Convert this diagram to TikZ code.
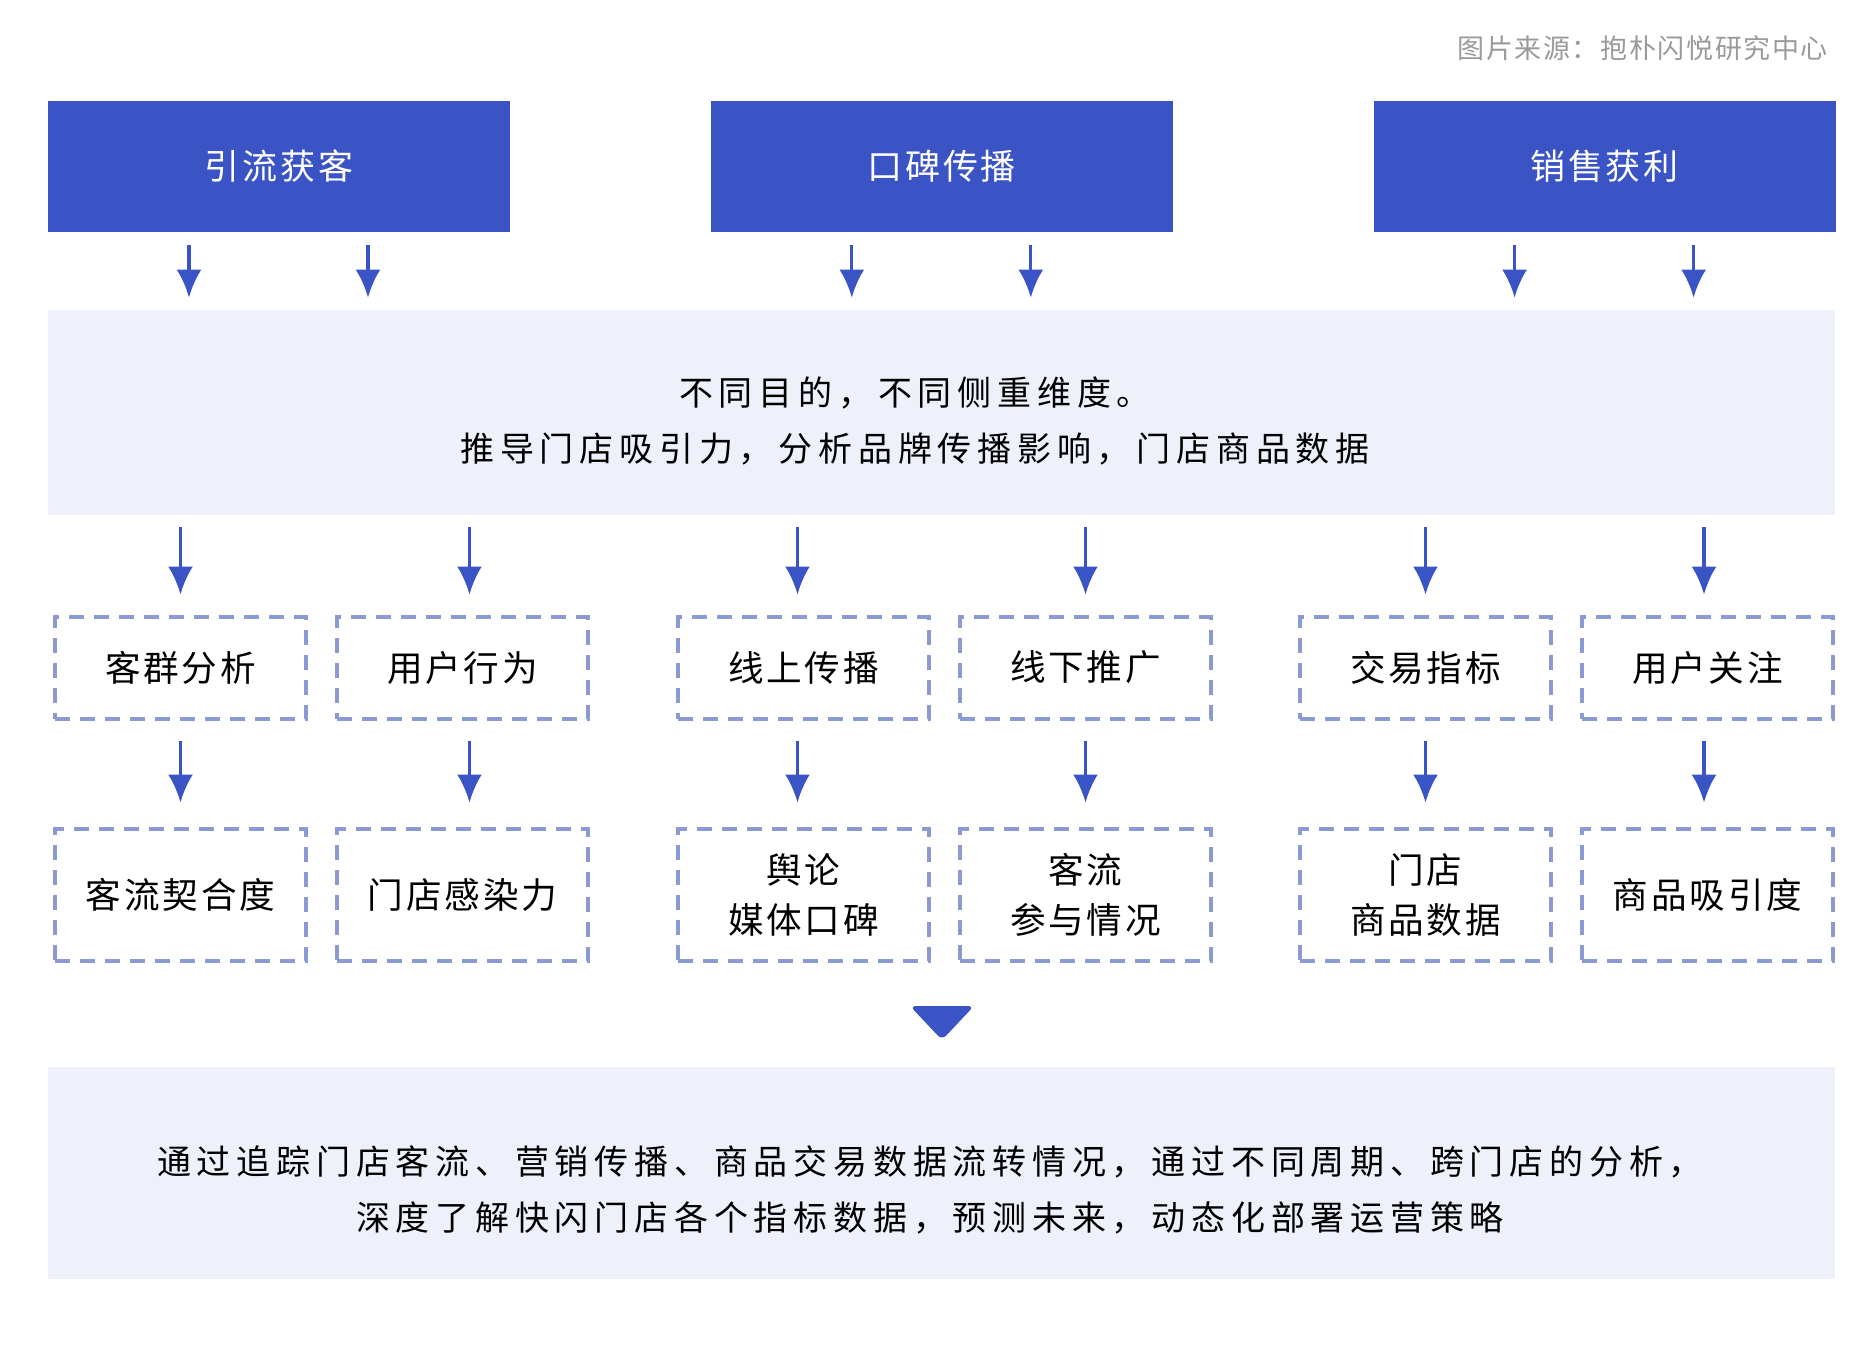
\documentclass[tikz,border=0pt]{standalone}
\usepackage{fontspec}
\setmainfont{Noto Sans CJK SC}
\newfontfamily\boxfont[LetterSpace=8]{Noto Sans CJK SC}
\newfontfamily\bandfont[LetterSpace=17]{Noto Sans CJK SC}
\newfontfamily\srcfont[LetterSpace=6]{Noto Sans CJK SC}
\usetikzlibrary{positioning, arrows.meta}
\definecolor{mainblue}{HTML}{3A53C5}
\definecolor{bandgray}{HTML}{EEF0FA}
\definecolor{dashblue}{HTML}{8C9AD4}
\definecolor{srcgray}{HTML}{9A9A9A}

\begin{document}
\begin{tikzpicture}[x=0.5pt, y=-0.5pt, node distance=53pt,
    head/.style={fill=mainblue, minimum width=231pt, minimum height=65.5pt, inner sep=0pt,
        text=white, font=\boxfont\fontsize{17.5pt}{20pt}\selectfont},
    band/.style={fill=bandgray, minimum width=893.5pt, inner sep=0pt},
    bandtxt/.style={align=center, inner sep=0pt, font=\bandfont\fontsize{17pt}{28pt}\selectfont},
    item/.style={draw=dashblue, line width=2pt, dash pattern=on 7.5pt off 5pt, minimum width=125.5pt,
        minimum height=51pt, inner sep=0pt, align=center, font=\boxfont\fontsize{17.8pt}{25pt}\selectfont},
    tall/.style={minimum height=66pt},
    arr/.style={draw=mainblue, line width=1.6pt, -{Latex[length=14pt,width=12.5pt]}}]
    \useasboundingbox (0,0) rectangle (1872,1346);

    \node[anchor=east, text=srcgray, font=\srcfont\fontsize{13.5pt}{15pt}\selectfont] (src) at (1835,48) {图片来源：抱朴闪悦研究中心};

    % three goals
    \node[head] (t1) at (279,166.5) {引流获客};
    \node[head] (t2) [right=100pt of t1] {口碑传播};
    \node[head] (t3) [right=100pt of t2] {销售获利};

    % middle band
    \node[band, minimum height=102.5pt] (mid) at (941.5,412.5) {};
    \node[bandtxt] (goal) at (915,421) {不同目的，不同侧重维度。\\推导门店吸引力，分析品牌传播影响，门店商品数据};

    \foreach \t in {t1,t2,t3} {
        \draw[arr, shorten <=6.5pt, shorten >=6pt] ([xshift=-45pt]\t.south) -- ([xshift=-45pt]\t.south |- mid.north);
        \draw[arr, shorten <=6.5pt, shorten >=6pt] ([xshift=44.5pt]\t.south) -- ([xshift=44.5pt]\t.south |- mid.north);
    }

    % first row
    \node[item] (a1) at (180.5,667.5) {客群分析};
    \node[item] (b1) [right=13.5pt of a1] {用户行为};
    \node[item] (c1) at (803.5,667.5) {线上传播};
    \node[item] (d1) [right=13.5pt of c1] {线下推广};
    \node[item] (e1) at (1425.5,667.5) {交易指标};
    \node[item] (f1) [right=13.5pt of e1] {用户关注};

    % second row
    \node[item, tall] (a2) [below=of a1] {客流契合度};
    \node[item, tall] (b2) [below=of b1] {门店感染力};
    \node[item, tall] (c2) [below=of c1] {舆论\\媒体口碑};
    \node[item, tall] (d2) [below=of d1] {客流\\参与情况};
    \node[item, tall] (e2) [below=of e1] {门店\\商品数据};
    \node[item, tall] (f2) [below=of f1] {商品吸引度};

    \foreach \n/\dx in {a/0pt,b/3.5pt,c/-3pt,d/0pt,e/0pt,f/-1.75pt} {
        \draw[arr, shorten <=6pt, shorten >=10pt] ([xshift=\dx]\n1.north |- mid.south) -- ([xshift=\dx]\n1.north);
        \draw[arr, shorten <=10pt, shorten >=12pt] ([xshift=\dx]\n1.south) -- ([xshift=\dx]\n2.north);
    }

    % bottom band
    \fill[mainblue, rounded corners=3pt] (910,1006) -- (974,1006) -- (942,1040) -- cycle;
    \node[band, minimum height=106pt] (fin) at (941.5,1173) {};
    \node[bandtxt] (sum) at (930,1190) {通过追踪门店客流、营销传播、商品交易数据流转情况，通过不同周期、跨门店的分析，\\深度了解快闪门店各个指标数据，预测未来，动态化部署运营策略};
\end{tikzpicture}
\end{document}
